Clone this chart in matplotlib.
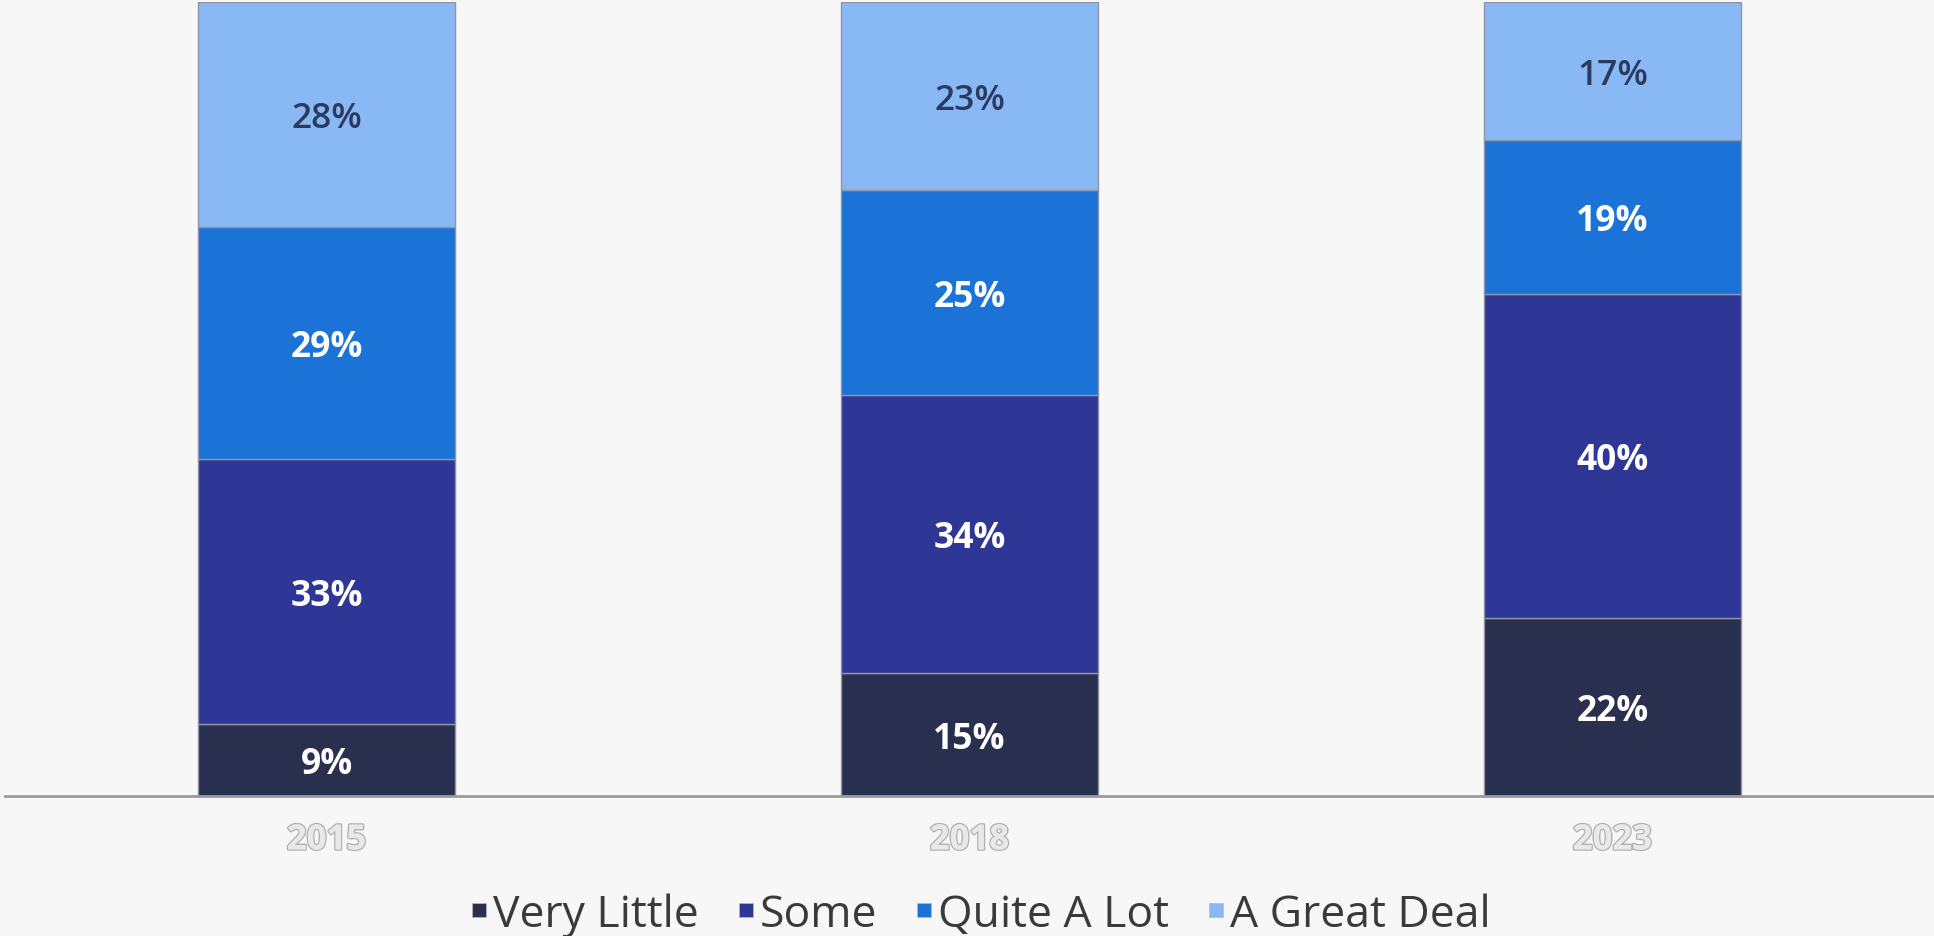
import matplotlib
matplotlib.use("Agg")
import matplotlib.pyplot as plt
import matplotlib.patheffects as pe
from matplotlib.lines import Line2D
import numpy as np

years = ["2015", "2018", "2023"]
series_names = ["Very Little", "Some", "Quite A Lot", "A Great Deal"]
very_little = [9, 15, 22]
some = [33, 34, 40]
quite_a_lot = [29, 25, 19]
great_deal = [28, 23, 17]

colors = ["#29304f", "#2e3795", "#1b73d8", "#89b9f5"]
label_colors = ["white", "white", "white", "#2b3a5e"]

data = np.array([very_little, some, quite_a_lot, great_deal], dtype=float)
totals = data.sum(axis=0)
shares = data / totals

bg = "#f7f7f7"
fig = plt.figure(figsize=(19.34, 9.37), dpi=100, facecolor=bg)
ax = fig.add_axes([0.0026, 0.1494, 0.9974, 0.8474])
ax.set_facecolor(bg)

x = np.arange(len(years))
bottom = np.zeros(len(years))
for i, name in enumerate(series_names):
    ax.bar(x, shares[i], width=0.401, bottom=bottom, color=colors[i],
           edgecolor="#8f93a3", linewidth=1.0, label=name, zorder=2)
    for j in range(len(years)):
        cy = bottom[j] + shares[i][j] / 2
        ax.annotate(f"{int(data[i][j])}%", xy=(x[j], cy), xytext=(0, -3),
                    textcoords="offset points", ha="center", va="center",
                    fontsize=25.5, fontweight="bold" if i < 3 else "semibold",
                    color=label_colors[i], family="Open Sans", zorder=3)
    bottom += shares[i]

ax.set_xlim(-0.5, 2.5)
ax.set_ylim(0, 1.0)
ax.set_yticks([])
for s in ["top", "right", "left"]:
    ax.spines[s].set_visible(False)
ax.spines["bottom"].set_color("#9a9a9a")
ax.spines["bottom"].set_linewidth(2)
ax.set_xticks(x)
ax.set_xticklabels(years)
ax.tick_params(axis="x", length=0, pad=19)
for t in ax.get_xticklabels():
    t.set_fontsize(25)
    t.set_fontweight("bold")
    t.set_family("Open Sans")
    t.set_color("#e8e8e8")
    t.set_path_effects([pe.withStroke(linewidth=2.0, foreground="#b0b0b0"), pe.Normal()])

handles = [Line2D([0], [0], marker="s", linestyle="none", markersize=10,
                  markerfacecolor=c, markeredgecolor="#bbbbbb", markeredgewidth=0.5)
           for c in colors]
leg = fig.legend(handles, series_names, loc="center", bbox_to_anchor=(0.507, 0.023),
                 ncol=4, frameon=False, handlelength=0.4, handletextpad=0.12,
                 columnspacing=0.85, prop={"family": "Open Sans", "size": 32})
for t in leg.get_texts():
    t.set_color("#3a3a3a")

fig.savefig("out.png", dpi=100, facecolor=bg)
